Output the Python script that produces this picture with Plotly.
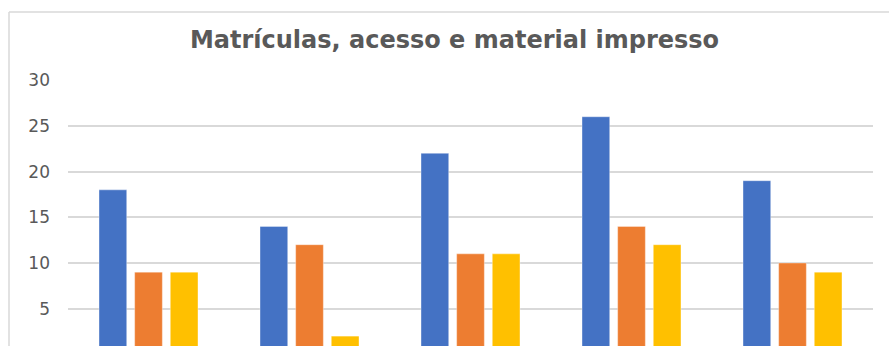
import plotly.graph_objects as go

categories = ["Turma 1", "Turma 2", "Turma 3", "Turma 4", "Turma 5"]
series_names = ["Matrículas", "Acesso", "Material impresso"]
matriculas = [18, 14, 22, 26, 19]
acesso = [9, 12, 11, 14, 10]
material = [9, 2, 11, 12, 9]
colors = ["#4472C4", "#ED7D31", "#FFC000"]

W, H = 889, 346
L, R, T, B = 68, 16, 80, 0

fig = go.Figure()
for name, vals, c in zip(series_names, [matriculas, acesso, material], colors):
    fig.add_trace(go.Bar(
        x=categories, y=vals, name=name,
        marker=dict(color=c, line=dict(color="rgba(255,255,255,0.35)", width=1)),
    ))

pw = W - L - R
ph = H - T - B
# chart-area border (top and left visible)
fig.add_shape(type="line", xref="paper", yref="paper",
              x0=(9 - L) / pw, x1=1 + (R + 5) / pw,
              y0=1 + (T - 12) / ph, y1=1 + (T - 12) / ph,
              line=dict(color="#d9d9d9", width=1.5))
fig.add_shape(type="line", xref="paper", yref="paper",
              x0=(9 - L) / pw, x1=(9 - L) / pw,
              y0=-0.05, y1=1 + (T - 12) / ph,
              line=dict(color="#d9d9d9", width=1.5))

fig.update_layout(
    width=W, height=H,
    margin=dict(l=L, r=R, t=T, b=B, pad=0),
    paper_bgcolor="white", plot_bgcolor="white",
    barmode="group", bargap=0.336, bargroupgap=0.223,
    showlegend=False,
    title=dict(text="<b>Matrículas, acesso e material impresso</b>",
               x=454.5 / W, xanchor="center", y=1 - 40 / H, yanchor="middle",
               xref="container", yref="container",
               font=dict(family="DejaVu Sans", size=24, color="#595959")),
    xaxis=dict(showticklabels=False, showgrid=False, zeroline=False, showline=False, ticks=""),
    yaxis=dict(range=[0.92, 30.02], tickvals=[5, 10, 15, 20, 25, 30],
               showgrid=True, gridcolor="#d9d9d9", gridwidth=1.5,
               zeroline=False, showline=False, ticks="",
               ticklabelstandoff=17,
               tickfont=dict(family="DejaVu Sans", size=17, color="#595959")),
)

fig.write_html("out.html")
